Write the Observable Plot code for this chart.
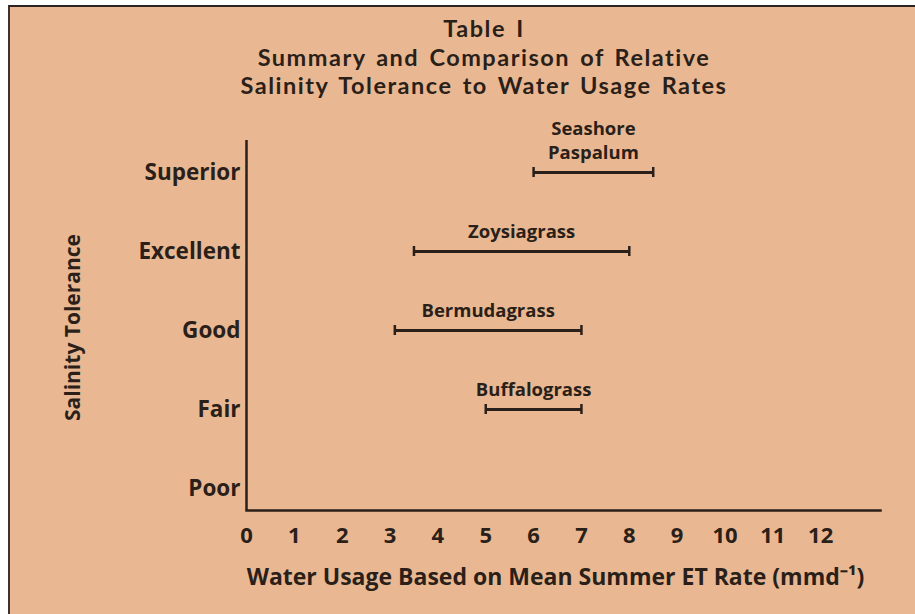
<!DOCTYPE html>
<html>
<head>
<meta charset="utf-8">
<script src="https://cdn.jsdelivr.net/npm/d3@7"></script>
<script src="https://cdn.jsdelivr.net/npm/@observablehq/plot@0.6"></script>
<style>
  html, body { margin: 0; padding: 0; background: #ffffff; }
  #wrap { position: relative; width: 915px; height: 614px; overflow: hidden; }
  #panel { position: absolute; left: 8px; top: 5px; width: 907px; height: 609px;
           background: #e9b892; border-top: 2px solid #2a2320; border-left: 2px solid #3a3330; }
  #title { position: absolute; left: 484px; top: 14px; transform: translateX(-50%);
           font-family: Lato, "Open Sans", sans-serif; font-weight: 700; font-size: 23.5px;
           letter-spacing: 1.5px; word-spacing: 3px; line-height: 28.5px; color: #2b1f19; text-align: center; white-space: nowrap; }
  #chart { position: absolute; left: 0; top: 0; }
</style>
</head>
<body>
<div id="wrap">
  <div id="panel"></div>
  <div id="title">Table I<br>Summary and Comparison of Relative<br>Salinity Tolerance to Water Usage Rates</div>
  <div id="chart"></div>
</div>
<script>
const levels = ["Superior", "Excellent", "Good", "Fair", "Poor"];
const grasses = ["Seashore\nPaspalum", "Zoysiagrass", "Bermudagrass", "Buffalograss"];
const grassLevels = ["Superior", "Excellent", "Good", "Fair"];
const lowET = [6, 3.5, 3.1, 5];
const highET = [8.5, 8, 7, 7];
const xTicks = [0, 1, 2, 3, 4, 5, 6, 7, 8, 9, 10, 11, 12];
const xLabel = "Water Usage Based on Mean Summer ET Rate (mmd\u207B\u00B9)";
const yLabel = "Salinity Tolerance";

const data = grasses.map((g, i) => ({
  grass: g, level: grassLevels[i], lo: lowET[i], hi: highET[i], mid: (lowET[i] + highET[i]) / 2
}));

const ink = "#2b1f19";

const chart = Plot.plot({
  width: 915,
  height: 614,
  marginLeft: 246,
  marginRight: 35,
  marginTop: 140,
  marginBottom: 104,
  style: { background: "transparent", fontFamily: "Open Sans, sans-serif", fontWeight: 700, color: ink, fontSize: "22px" },
  x: { domain: [0, 13.25] },
  y: { type: "point", domain: levels, range: [170, 489], padding: 0 },
  marks: [
    Plot.axisX({ ticks: xTicks, tickSize: 0, tickPadding: 17, label: null, fontSize: 22, fill: ink }),
    Plot.axisY({ tickSize: 0, tickPadding: 6, label: null, fontSize: 22.5, fill: ink }),
    Plot.ruleX([0], { stroke: ink, strokeWidth: 2.5 }),
    Plot.frame({ anchor: "bottom", stroke: ink, strokeWidth: 2.5 }),
    Plot.ruleY(data, { x1: "lo", x2: "hi", y: "level", stroke: ink, strokeWidth: 3 }),
    Plot.ruleX(data, { x: "lo", y1: "level", y2: "level", insetTop: -5, insetBottom: -5, stroke: ink, strokeWidth: 2.5 }),
    Plot.ruleX(data, { x: "hi", y1: "level", y2: "level", insetTop: -5, insetBottom: -5, stroke: ink, strokeWidth: 2.5 }),
    Plot.text(data, { x: "mid", y: "level", text: "grass", lineAnchor: "bottom", dy: -14, fontSize: 18.5, lineHeight: 1.25, fill: ink }),
    Plot.text([yLabel], { text: d => d, frameAnchor: "left", textAnchor: "middle", dx: -173, dy: 2, rotate: -90, fontSize: 21, fill: ink }),
    Plot.text([xLabel], { text: d => d, frameAnchor: "bottom", dx: -8, dy: 74, fontSize: 23, fill: ink })
  ]
});
document.getElementById("chart").appendChild(chart);
</script>
</body>
</html>
